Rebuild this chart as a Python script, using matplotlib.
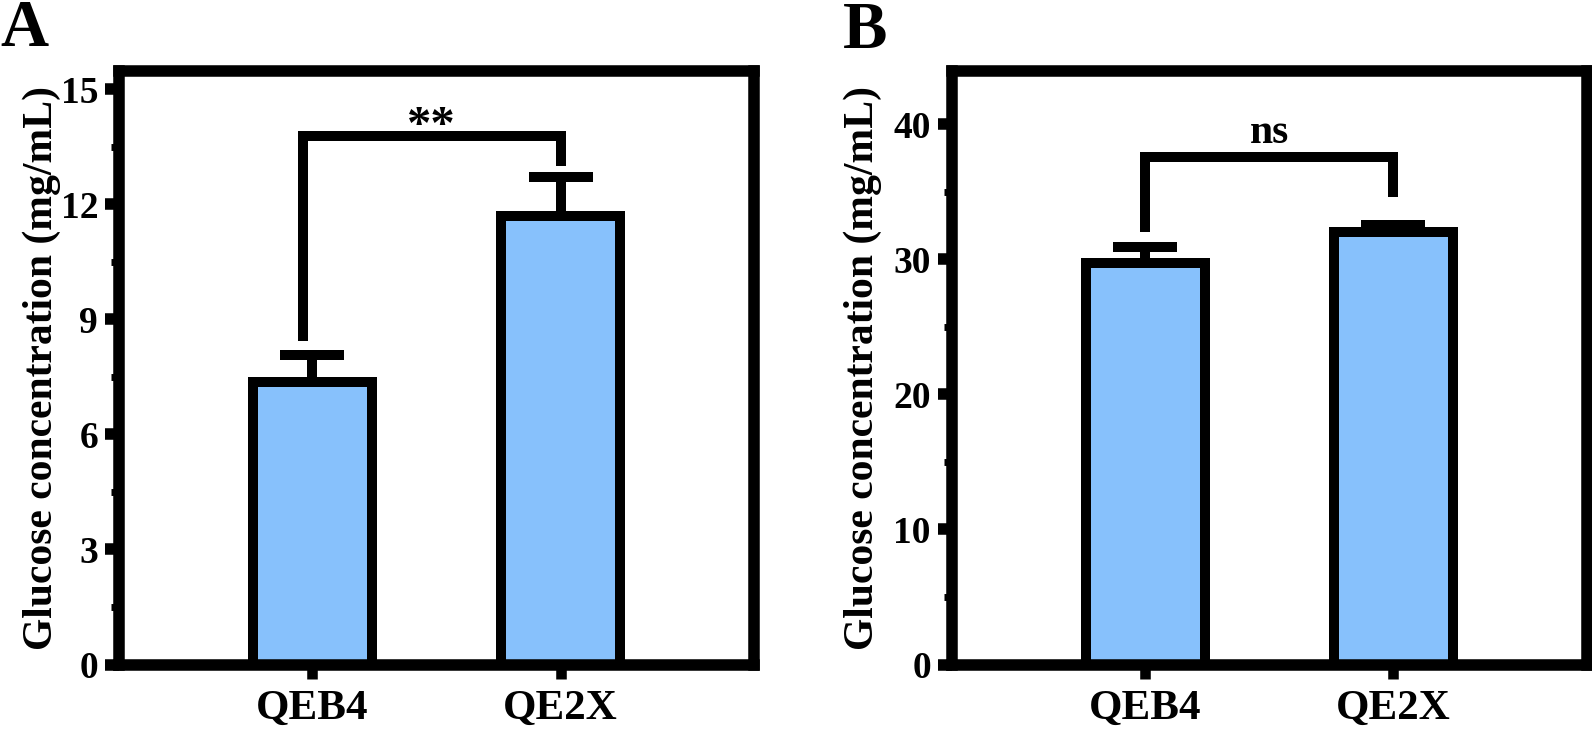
import numpy as np
import matplotlib
matplotlib.use("Agg")
import matplotlib.pyplot as plt
from matplotlib.ticker import MultipleLocator

plt.rcParams['font.family'] = ['Liberation Serif', 'DejaVu Serif']
plt.rcParams['font.weight'] = 'bold'

# data
groups = ['QEB4', 'QE2X']
glucose_a = [7.37, 11.69]
err_a = [0.71, 1.02]
glucose_b = [29.7, 31.99]
err_b = [1.2, 0.54]

# significance brackets: left x, right x, left leg bottom, top, right leg bottom
bracket_a = [-0.04, 1.0, 8.43, 13.77, 12.99]
bracket_b = [0.0, 1.0, 32.0, 37.56, 34.63]
sig_labels = ['**', 'ns']

ylims = [15.47, 43.93]
major_steps = [3, 10]
minor_steps = [1.5, 5]

bar_color = '#87C1FC'
LW = 7.2

fig = plt.figure(figsize=(15.92, 7.34), dpi=100)
ax_a = fig.add_axes([119 / 1592, 69.5 / 734, 635 / 1592, 593.5 / 734])
ax_b = fig.add_axes([951.7 / 1592, 69.5 / 734, 635.3 / 1592, 593.5 / 734])

panels = [
    (ax_a, glucose_a, err_a, bracket_a, sig_labels[0], ylims[0], major_steps[0], minor_steps[0], -0.092),
    (ax_b, glucose_b, err_b, bracket_b, sig_labels[1], ylims[1], major_steps[1], minor_steps[1], -0.11),
]

for i, (ax, vals, errs, br, sig, ytop, maj, mnr, labx) in enumerate(panels):
    x = np.arange(len(groups))
    ax.errorbar(x, vals, yerr=[np.zeros(len(errs)), errs], fmt='none',
                ecolor='black', elinewidth=LW, capsize=23, capthick=LW, zorder=1)
    ax.bar(x, vals, width=0.48, color=bar_color, edgecolor='black',
           linewidth=LW, zorder=2)

    # bracket
    ax.plot([br[0], br[0], br[1], br[1]], [br[2], br[3], br[3], br[4]],
            color='black', lw=LW, solid_joinstyle='miter',
            solid_capstyle='butt', zorder=3)
    if sig == '**':
        ax.annotate(sig, xy=((br[0] + br[1]) / 2, br[3]), xytext=(0, -2),
                    textcoords='offset points', ha='center', va='baseline',
                    fontsize=35, fontweight='bold')
    else:
        ax.annotate(sig, xy=((br[0] + br[1]) / 2, br[3]), xytext=(0, 10),
                    textcoords='offset points', ha='center', va='baseline',
                    fontsize=30, fontweight='bold')

    ax.set_xlim(-0.78, 1.78)
    ax.set_ylim(0, ytop)
    ax.set_xticks(x)
    ax.set_xticklabels(groups, fontsize=31, fontweight='bold')
    ax.yaxis.set_major_locator(MultipleLocator(maj))
    ax.yaxis.set_minor_locator(MultipleLocator(mnr))
    for lab in ax.get_yticklabels():
        lab.set_fontweight('bold')
    ax.tick_params(axis='y', which='major', direction='out', length=10,
                   width=8.3, labelsize=27, pad=5)
    ax.tick_params(axis='y', which='minor', direction='out', length=6,
                   width=5)
    ax.tick_params(axis='x', which='major', direction='out', length=10,
                   width=7.6, pad=8)
    for sp in ax.spines.values():
        sp.set_linewidth(8.3)
    ax.set_ylabel('Glucose concentration (mg/mL)', fontsize=30,
                  fontweight='bold')
    ax.yaxis.set_label_coords(labx, 0.5)

fig.text(0.0, 1 - 46 / 734, 'A', fontsize=48, fontweight='bold', va='baseline')
fig.text(843 / 1592, 1 - 48 / 734, 'B', fontsize=48, fontweight='bold', va='baseline')

fig.savefig('out.png', dpi=100)
